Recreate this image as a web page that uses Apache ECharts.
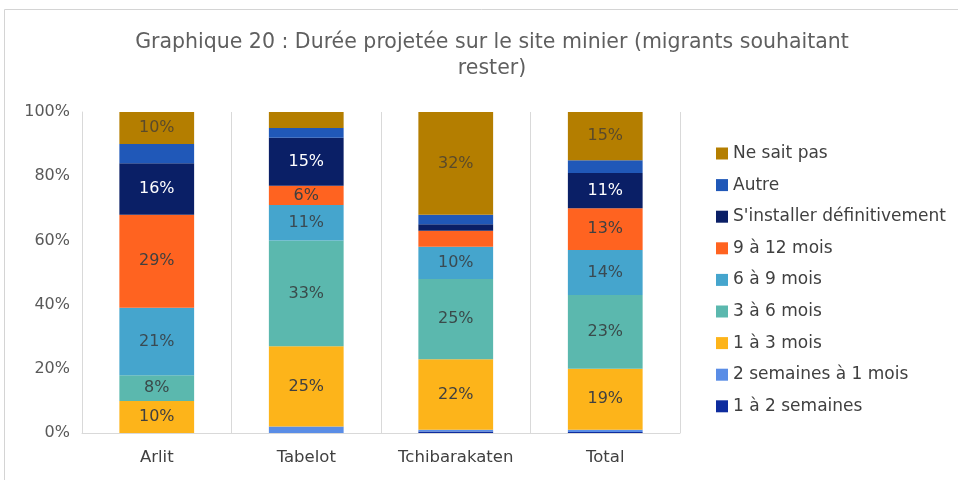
<!DOCTYPE html>
<html>
<head>
<meta charset="utf-8">
<script src="https://cdn.jsdelivr.net/npm/echarts@6/dist/echarts.min.js"></script>
<style>
  html, body { margin: 0; padding: 0; background: #fff; }
  #main { width: 958px; height: 480px; }
</style>
</head>
<body>
<div id="main"></div>
<script>
const categories = ['Arlit', 'Tabelot', 'Tchibarakaten', 'Total'];

// séries, de bas en haut de la pile
const unADeuxSemaines = [0, 0, 0.5, 0.3];
const deuxSemainesAUnMois = [0, 2, 0.5, 0.7];
const unATroisMois = [10, 25, 22, 19];
const troisASixMois = [8, 33, 25, 23];
const sixANeufMois = [21, 11, 10, 14];
const neufADouzeMois = [29, 6, 5, 13];
const installerDefinitivement = [16, 15, 2, 11];
const autre = [6, 3, 3, 4];
const neSaitPas = [10, 5, 32, 15];

const yTicks = [0, 20, 40, 60, 80, 100];

const font = 'DejaVu Sans';

function serie(name, data, color, labelColor, showLabel) {
    return {
        name: name,
        type: 'bar',
        stack: 'total',
        barWidth: '50%',
        data: data,
        itemStyle: { color: color },
        label: {
            show: showLabel,
            position: 'inside',
            color: labelColor,
            fontFamily: font,
            fontSize: 16,
            formatter: function (p) {
                return p.value >= 6 ? Math.round(p.value) + '%' : '';
            }
        }
    };
}

const chart = echarts.init(document.getElementById('main'));

var option = {
    animation: false,
    textStyle: { fontFamily: font },
    graphic: [{
        type: 'rect',
        shape: { x: 4.5, y: 9.5, width: 1000, height: 600 },
        style: { fill: 'none', stroke: '#d4d4d4', lineWidth: 1 },
        silent: true
    }],
    title: {
        text: 'Graphique 20 : Durée projetée sur le site minier (migrants souhaitant\nrester)',
        left: 487,
        top: 25,
        textAlign: 'center',
        textStyle: {
            fontFamily: font,
            fontSize: 20.5,
            fontWeight: 'normal',
            color: '#5f5f5f',
            lineHeight: 26
        }
    },
    legend: {
        orient: 'vertical',
        left: 711,
        top: 140,
        itemWidth: 12,
        itemHeight: 12,
        itemGap: 14.6,
        icon: 'rect',
        textStyle: { fontFamily: font, fontSize: 17, color: '#404040' },
        data: ['Ne sait pas', 'Autre', "S'installer définitivement", '9 à 12 mois',
            '6 à 9 mois', '3 à 6 mois', '1 à 3 mois', '2 semaines à 1 mois', '1 à 2 semaines']
    },
    grid: { left: 82, right: 278, top: 112, bottom: 47, containLabel: false },
    xAxis: {
        type: 'category',
        data: categories,
        axisLine: { lineStyle: { color: '#d9d9d9' } },
        axisTick: { show: false },
        splitLine: { show: true, interval: 0, lineStyle: { color: '#d9d9d9' } },
        axisLabel: { interval: 0, color: '#404040', fontSize: 16.5, margin: 16, fontFamily: font }
    },
    yAxis: {
        type: 'value',
        min: yTicks[0],
        max: yTicks[yTicks.length - 1],
        interval: 20,
        axisLine: { show: true, lineStyle: { color: '#d9d9d9' } },
        axisTick: { show: false },
        splitLine: { show: false },
        axisLabel: { formatter: '{value}%', color: '#595959', fontSize: 16, margin: 12, fontFamily: font }
    },
    series: [
        serie('1 à 2 semaines', unADeuxSemaines, '#0e2c9e', '#fff', false),
        serie('2 semaines à 1 mois', deuxSemainesAUnMois, '#5a8de6', '#404040', false),
        serie('1 à 3 mois', unATroisMois, '#fdb41a', '#404040', true),
        serie('3 à 6 mois', troisASixMois, '#5bb8ae', '#3a4a4a', true),
        serie('6 à 9 mois', sixANeufMois, '#45a5cd', '#3a4a52', true),
        serie('9 à 12 mois', neufADouzeMois, '#ff6320', '#404040', true),
        serie("S'installer définitivement", installerDefinitivement, '#0a1f66', '#ffffff', true),
        serie('Autre', autre, '#2058b8', '#ffffff', false),
        serie('Ne sait pas', neSaitPas, '#b47e00', '#5a4a2a', true)
    ]
};

chart.setOption(option);
</script>
</body>
</html>
